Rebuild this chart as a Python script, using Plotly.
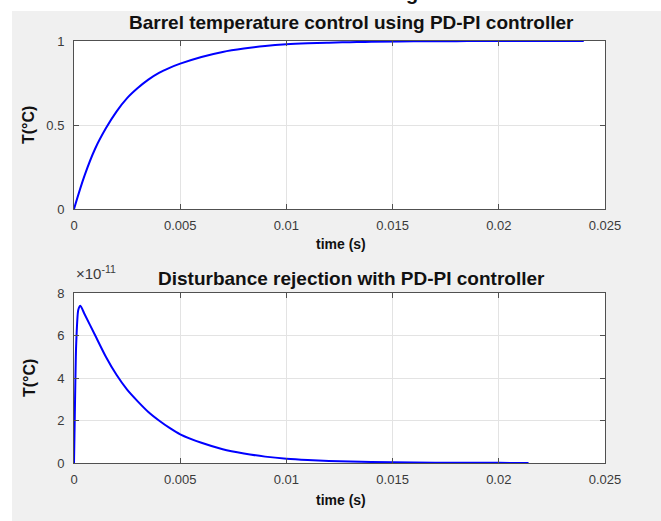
import plotly.graph_objects as go
from plotly.subplots import make_subplots

# step response of the barrel temperature
t_step = [0, 0.0005, 0.001, 0.0015, 0.002, 0.0025, 0.003, 0.0035, 0.004, 0.0045,
          0.005, 0.006, 0.007, 0.008, 0.009, 0.010, 0.011, 0.012, 0.013, 0.014,
          0.016, 0.018, 0.020, 0.022, 0.024]
T_step = [0, 0.20, 0.36, 0.48, 0.58, 0.66, 0.72, 0.77, 0.81, 0.84,
          0.865, 0.905, 0.935, 0.955, 0.97, 0.98, 0.986, 0.99, 0.993, 0.996,
          0.998, 0.999, 1.0, 1.0, 1.0]

# disturbance response (values in deg C, axis shows x1e-11)
t_dist = [0, 0.00005, 0.0001, 0.0002, 0.0003, 0.0005, 0.001, 0.0015, 0.002, 0.0025,
          0.003, 0.0035, 0.004, 0.0045, 0.005, 0.006, 0.007, 0.008, 0.009, 0.010,
          0.011, 0.012, 0.013, 0.014, 0.016, 0.018, 0.020, 0.0214]
T_dist = [0, 3.0e-11, 5.5e-11, 7.2e-11, 7.4e-11, 7.0e-11, 6.0e-11, 5.0e-11, 4.15e-11, 3.45e-11,
          2.9e-11, 2.4e-11, 2.0e-11, 1.65e-11, 1.35e-11, 0.95e-11, 0.65e-11, 0.45e-11, 0.3e-11, 0.2e-11,
          0.14e-11, 0.1e-11, 0.07e-11, 0.05e-11, 0.025e-11, 0.012e-11, 0.006e-11, 0.004e-11]

x_ticks = [0, 0.005, 0.01, 0.015, 0.02, 0.025]
x_labels = ["0", "0.005", "0.01", "0.015", "0.02", "0.025"]
y1_ticks = [0, 0.5, 1]
y1_labels = ["0", "0.5", "1"]
y2_ticks = [0, 2e-11, 4e-11, 6e-11, 8e-11]
y2_labels = ["0", "2", "4", "6", "8"]

W, H = 661, 521
L, R, T, B = 74, 56, 41, 58
pw, ph = W - L - R, H - T - B

def px(x):
    return (x - L) / pw

def py(y):
    return (H - B - y) / ph

fig = make_subplots(rows=2, cols=1)
fig.add_trace(go.Scatter(x=t_step, y=T_step, mode="lines", line=dict(color="#0000ff", width=2, shape="spline")), row=1, col=1)
fig.add_trace(go.Scatter(x=t_dist, y=T_dist, mode="lines", line=dict(color="#0000ff", width=2, shape="spline", smoothing=0.6)), row=2, col=1)

axis_style = dict(showline=True, linecolor="#505050", linewidth=1, mirror="ticks",
                  ticks="inside", ticklen=5, tickcolor="#505050",
                  showgrid=True, gridcolor="#e3e3e3", gridwidth=1, zeroline=False,
                  tickfont=dict(family="Liberation Sans, Arial", size=13, color="#3a3a3a"))

fig.update_xaxes(axis_style, range=[0, 0.025], tickvals=x_ticks, ticktext=x_labels, ticklabelstandoff=4)
fig.update_yaxes(axis_style, ticklabelstandoff=6)
fig.update_yaxes(range=[0, 1], tickvals=y1_ticks, ticktext=y1_labels, domain=[py(209), 1], row=1, col=1)
fig.update_yaxes(range=[0, 8e-11], tickvals=y2_ticks, ticktext=y2_labels, domain=[0, py(293)], row=2, col=1)

bold = dict(family="Liberation Sans, Arial", color="#111111")
notes = [
    dict(text="<b>Barrel temperature control using PD-PI controller</b>", x=px(351), y=py(22), size=19),
    dict(text="<b>Disturbance rejection with PD-PI controller</b>", x=px(351), y=py(278), size=19),
    dict(text="<b>time (s)</b>", x=px(341), y=py(244), size=14),
    dict(text="<b>time (s)</b>", x=px(341), y=py(500), size=14),
]
for n in notes:
    fig.add_annotation(text=n["text"], x=n["x"], y=n["y"], xref="paper", yref="paper",
                       xanchor="center", yanchor="middle",
                       showarrow=False, font=dict(size=n["size"], **bold))
for yc in [125, 378]:
    fig.add_annotation(text="<b>T(°C)</b>", x=px(29), y=py(yc), xref="paper", yref="paper",
                       xanchor="center", yanchor="middle",
                       showarrow=False, textangle=-90, font=dict(size=16, **bold))
fig.add_annotation(text="×10<sup>-11</sup>", x=px(74), y=py(284), xref="paper", yref="paper",
                   xanchor="left", yanchor="bottom", showarrow=False,
                   font=dict(family="Liberation Sans, Arial", size=15, color="#3a3a3a"))

# white strips on the top and left of the screenshot, with a cut-off letter
fig.add_shape(type="rect", xref="paper", yref="paper", x0=px(0), x1=px(W), y0=py(11), y1=py(-5),
              fillcolor="white", line_width=0)
fig.add_shape(type="rect", xref="paper", yref="paper", x0=px(-5), x1=px(12), y0=py(H + 5), y1=py(-5),
              fillcolor="white", line_width=0)
fig.add_annotation(text="<b>g</b>", x=px(412), y=py(6), xref="paper", yref="paper",
                   xanchor="center", yanchor="bottom", showarrow=False, font=dict(size=20, **bold))

fig.update_layout(width=W, height=H, showlegend=False,
                  margin=dict(l=L, r=R, t=T, b=B),
                  paper_bgcolor="#f0f0f0", plot_bgcolor="white")

fig.write_html("out.html", config={"displayModeBar": False},
               post_script="document.body.style.margin='0';document.body.style.overflow='hidden';")
